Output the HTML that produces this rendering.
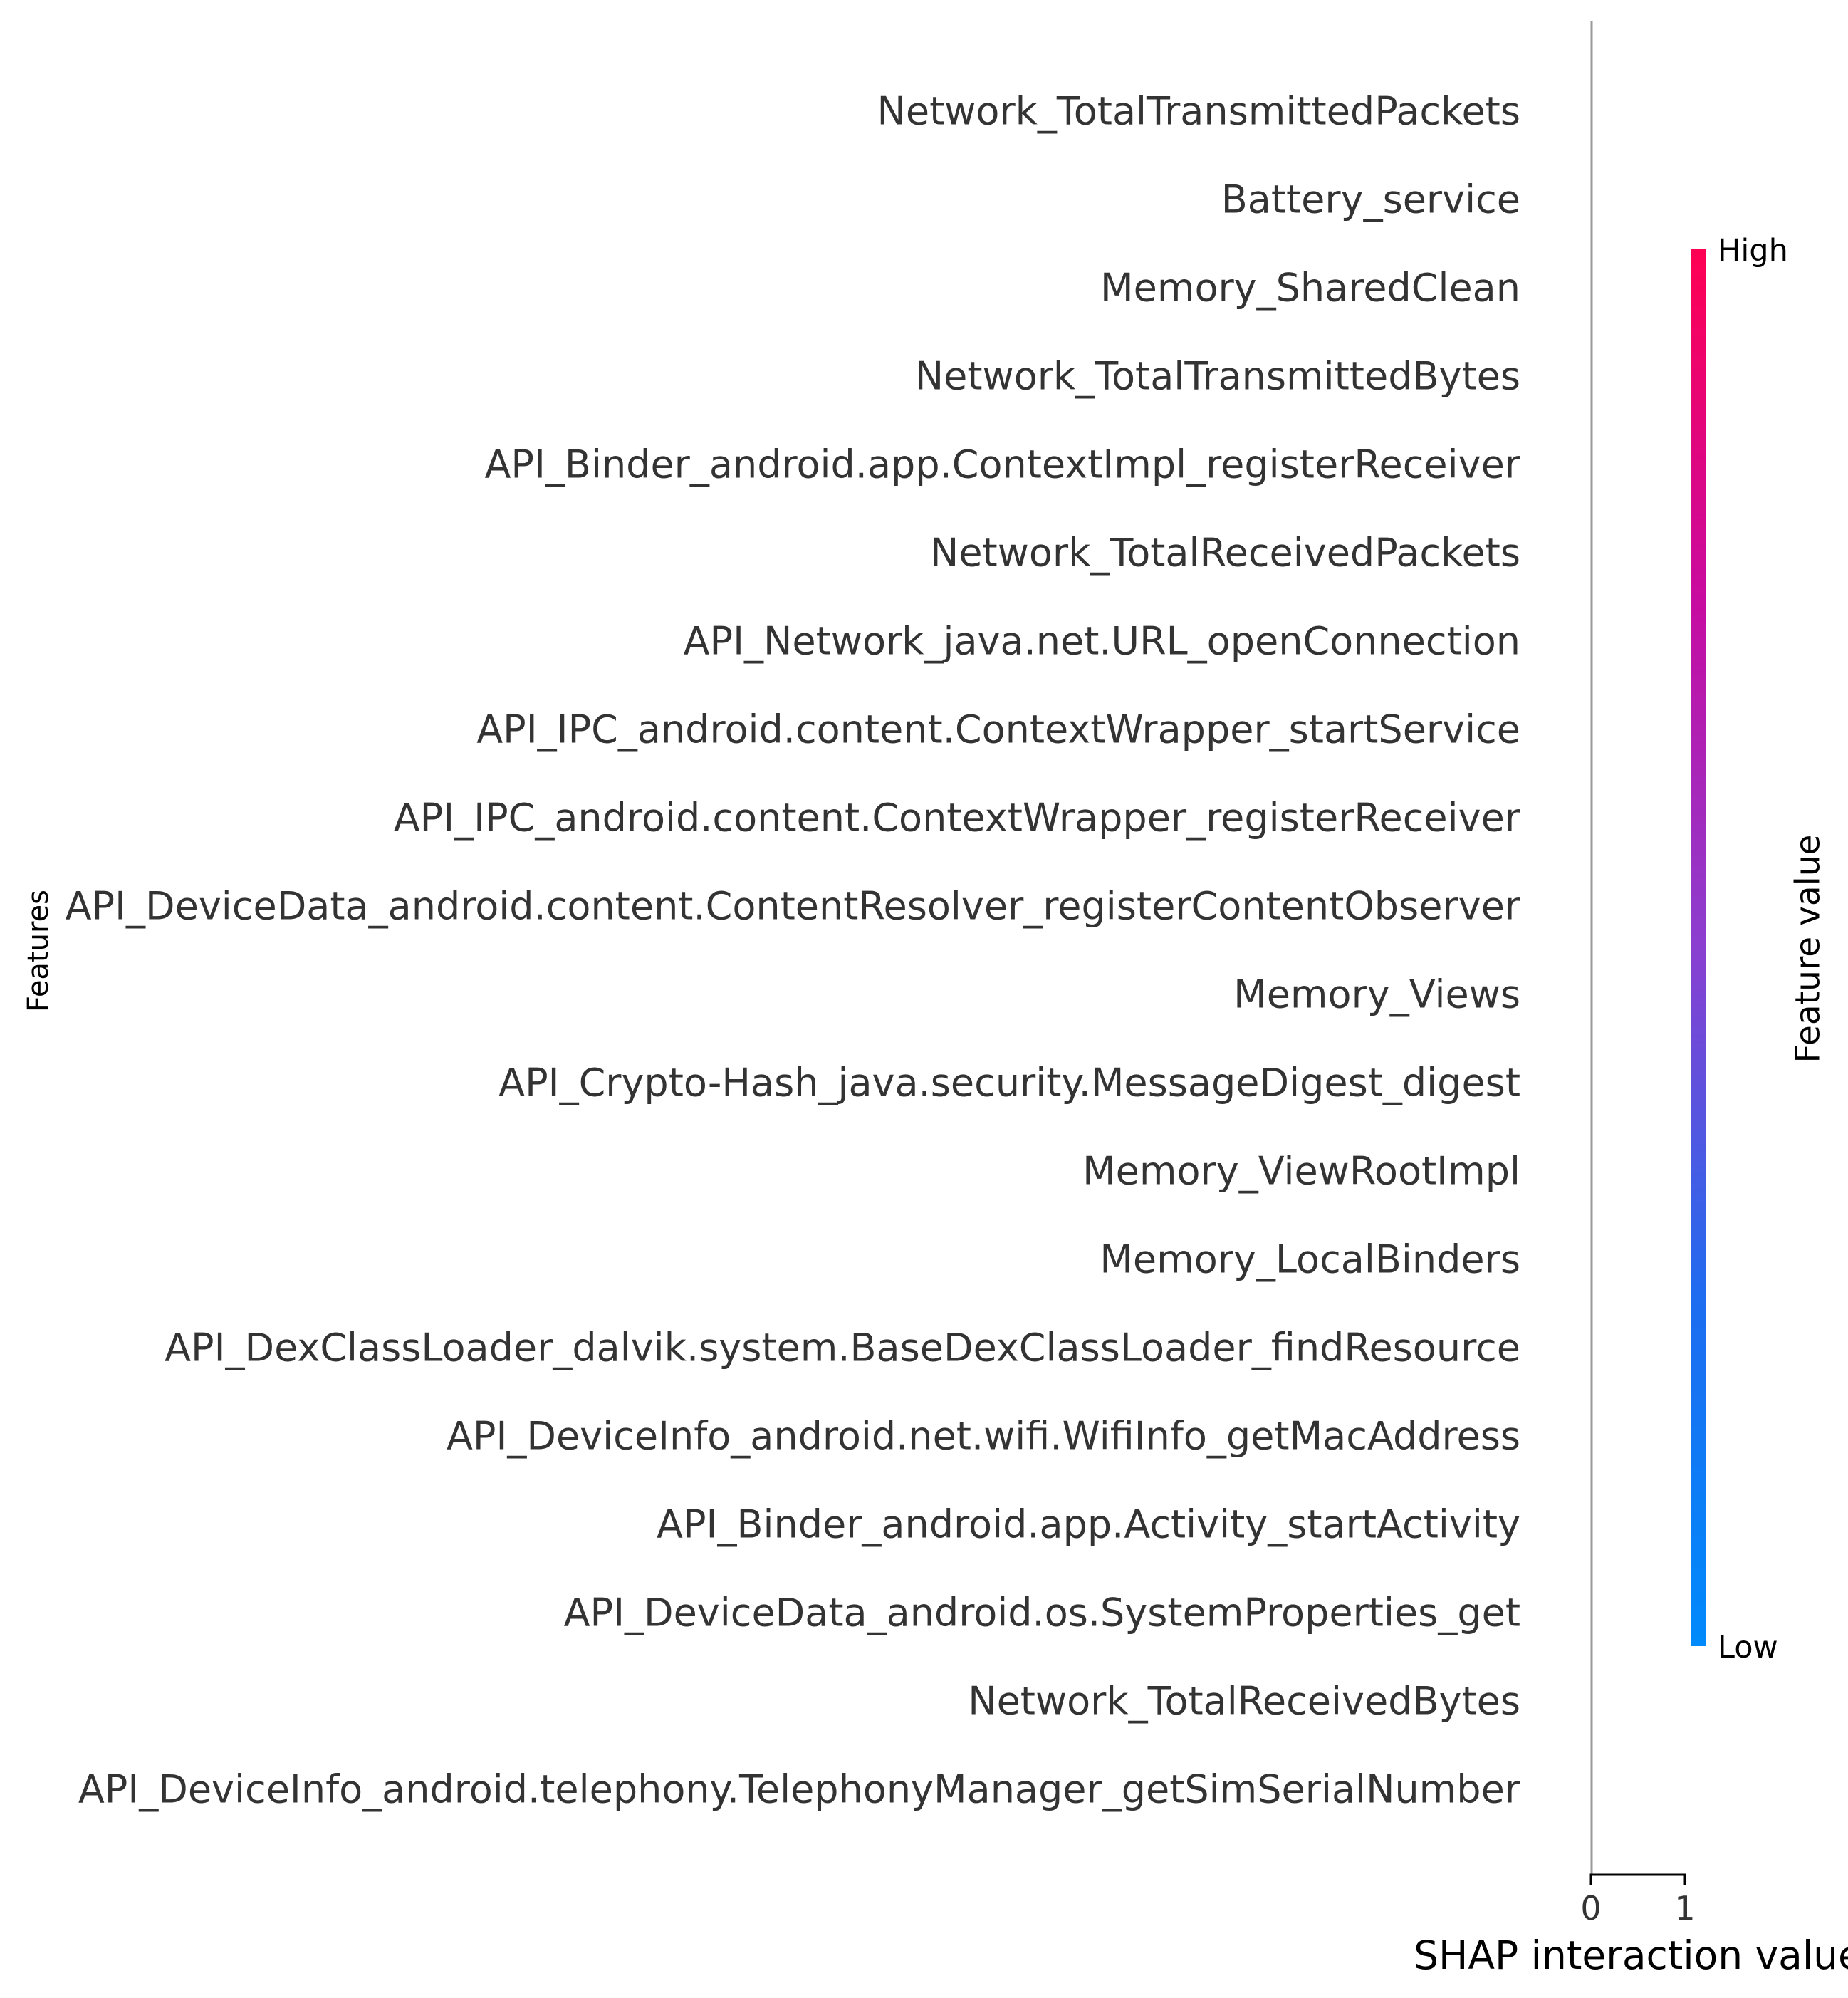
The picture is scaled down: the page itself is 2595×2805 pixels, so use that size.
<!DOCTYPE html>
<html><head><meta charset="utf-8"><style>html,body{margin:0;padding:0;background:#fff}svg{display:block}</style></head>
<body>
<svg width="2595" height="2805" viewBox="0 0 2595 2805" xmlns="http://www.w3.org/2000/svg" font-family="DejaVu Sans, Liberation Sans, sans-serif">
<defs><linearGradient id="cb" x1="0" y1="1" x2="0" y2="0">
<stop offset="0" stop-color="#008afb"/><stop offset="0.25" stop-color="#1e6cf0"/><stop offset="0.5" stop-color="#8a3fd0"/><stop offset="0.75" stop-color="#c80ba0"/><stop offset="1" stop-color="#ff0052"/></linearGradient></defs>
<line x1="2235" y1="30" x2="2235" y2="2632" stroke="#999" stroke-width="3"/>
<g font-size="54" fill="#333" text-anchor="end" dominant-baseline="central">
<text x="2135" y="156">Network_TotalTransmittedPackets</text>
<text x="2135" y="280">Battery_service</text>
<text x="2135" y="404">Memory_SharedClean</text>
<text x="2135" y="528">Network_TotalTransmittedBytes</text>
<text x="2135" y="652">API_Binder_android.app.ContextImpl_registerReceiver</text>
<text x="2135" y="776">Network_TotalReceivedPackets</text>
<text x="2135" y="900">API_Network_java.net.URL_openConnection</text>
<text x="2135" y="1024">API_IPC_android.content.ContextWrapper_startService</text>
<text x="2135" y="1148">API_IPC_android.content.ContextWrapper_registerReceiver</text>
<text x="2135" y="1272">API_DeviceData_android.content.ContentResolver_registerContentObserver</text>
<text x="2135" y="1396">Memory_Views</text>
<text x="2135" y="1520">API_Crypto-Hash_java.security.MessageDigest_digest</text>
<text x="2135" y="1644">Memory_ViewRootImpl</text>
<text x="2135" y="1768">Memory_LocalBinders</text>
<text x="2135" y="1892">API_DexClassLoader_dalvik.system.BaseDexClassLoader_findResource</text>
<text x="2135" y="2016">API_DeviceInfo_android.net.wifi.WifiInfo_getMacAddress</text>
<text x="2135" y="2140">API_Binder_android.app.Activity_startActivity</text>
<text x="2135" y="2264">API_DeviceData_android.os.SystemProperties_get</text>
<text x="2135" y="2388">Network_TotalReceivedBytes</text>
<text x="2135" y="2512">API_DeviceInfo_android.telephony.TelephonyManager_getSimSerialNumber</text>
</g>
<path d="M2234 2647 V2632 H2366 V2647" fill="none" stroke="#000" stroke-width="3"/>
<g font-size="46" fill="#333" text-anchor="middle" dominant-baseline="central">
<text x="2234" y="2679">0</text><text x="2366" y="2679">1</text></g>
<text x="2300" y="2745" font-size="55" fill="#000" text-anchor="middle" dominant-baseline="central">SHAP interaction value</text>
<text transform="translate(54,1335) rotate(-90)" font-size="40" fill="#000" text-anchor="middle" dominant-baseline="central">Features</text>
<rect x="2374" y="350" width="21" height="1961" fill="url(#cb)"/>
<g font-size="43" fill="#000" dominant-baseline="central">
<text x="2412" y="352">High</text><text x="2412" y="2313">Low</text></g>
<text transform="translate(2539,1332) rotate(-90)" font-size="47" fill="#000" text-anchor="middle" dominant-baseline="central">Feature value</text>
</svg>
</body></html>
